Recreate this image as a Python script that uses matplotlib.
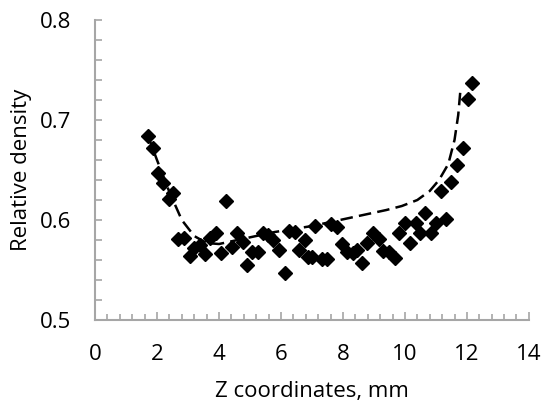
import matplotlib.pyplot as plt
from matplotlib.ticker import MultipleLocator

# measured points
z_meas = [1.72, 1.86, 2.04, 2.18, 2.38, 2.52, 2.69, 2.88, 3.06, 3.19, 3.39, 3.55,
          3.71, 3.90, 4.06, 4.23, 4.41, 4.57, 4.76, 4.91, 5.07, 5.27, 5.41, 5.59,
          5.73, 5.94, 6.13, 6.26, 6.45, 6.59, 6.77, 6.88, 6.99, 7.10, 7.31, 7.47,
          7.63, 7.80, 7.96, 8.12, 8.31, 8.46, 8.63, 8.79, 8.98, 9.16, 9.30, 9.49,
          9.68, 9.82, 10.00, 10.16, 10.35, 10.50, 10.66, 10.84, 11.00, 11.18, 11.34,
          11.50, 11.69, 11.86, 12.02, 12.18]
rho_meas = [0.684, 0.672, 0.647, 0.637, 0.621, 0.627, 0.581, 0.582, 0.564, 0.572, 0.575, 0.566,
            0.582, 0.587, 0.567, 0.619, 0.573, 0.587, 0.578, 0.555, 0.568, 0.568, 0.587, 0.585,
            0.580, 0.570, 0.547, 0.589, 0.588, 0.570, 0.580, 0.563, 0.563, 0.594, 0.561, 0.561,
            0.596, 0.593, 0.576, 0.568, 0.567, 0.570, 0.557, 0.577, 0.587, 0.581, 0.569, 0.568,
            0.562, 0.587, 0.597, 0.577, 0.597, 0.587, 0.607, 0.587, 0.597, 0.629, 0.601,
            0.638, 0.655, 0.672, 0.721, 0.737]

# model curve
z_model = [1.70, 2.00, 2.40, 2.80, 3.20, 3.60, 4.00, 4.60, 5.20, 5.80, 6.40, 7.00,
           7.60, 8.20, 8.80, 9.40, 9.90, 10.40, 10.80, 11.10, 11.40, 11.60, 11.72, 11.80]
rho_model = [0.685, 0.660, 0.628, 0.600, 0.584, 0.577, 0.576, 0.580, 0.584, 0.588, 0.591, 0.594,
             0.598, 0.602, 0.606, 0.610, 0.614, 0.620, 0.629, 0.640, 0.656, 0.680, 0.705, 0.733]

plt.rcParams['font.family'] = ['Open Sans', 'DejaVu Sans']

fig = plt.figure(figsize=(5.43, 4.01), dpi=100)
ax = fig.add_axes([0.175, 0.202, 0.799, 0.748])

ax.plot(z_model, rho_model, color='black', lw=1.8, ls=(0, (5, 2.5)), zorder=2)
ax.plot(z_meas, rho_meas, ls='none', marker='D', ms=7.3, color='black', zorder=3)

ax.set_xlim(0, 14)
ax.set_ylim(0.5, 0.8)
ax.xaxis.set_major_locator(MultipleLocator(2))
ax.xaxis.set_minor_locator(MultipleLocator(0.4))
ax.yaxis.set_major_locator(MultipleLocator(0.1))
ax.yaxis.set_minor_locator(MultipleLocator(0.02))
ax.yaxis.set_major_formatter(lambda v, p: f'{v:.1f}')

grey = '#a6a6a6'
for s in ['top', 'right']:
    ax.spines[s].set_visible(False)
for s in ['left', 'bottom']:
    ax.spines[s].set_color(grey)
    ax.spines[s].set_linewidth(1.5)

ax.tick_params(which='both', direction='in', color=grey, width=1.2, labelsize=16)
ax.tick_params(axis='x', which='major', length=6, pad=17)
ax.tick_params(axis='x', which='minor', length=4)
ax.tick_params(axis='y', which='both', length=5, pad=17)

ax.set_xlabel('Z coordinates, mm', fontsize=16, labelpad=12)
ax.set_ylabel('Relative density', fontsize=16, labelpad=6)

fig.savefig('out.png', dpi=100)
